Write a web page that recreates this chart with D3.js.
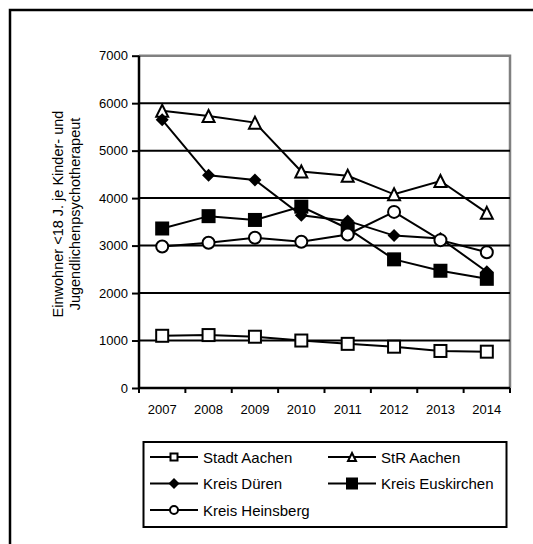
<!DOCTYPE html>
<html><head><meta charset="utf-8">
<script src="https://cdn.jsdelivr.net/npm/d3@7"></script>
<style>body{margin:0;background:#fff}svg{display:block;font-family:"Liberation Sans",Arial,sans-serif}</style>
</head><body><svg id="c" width="533" height="544"></svg>
<script>
const years = ["2007","2008","2009","2010","2011","2012","2013","2014"];
const yTicks = [0,1000,2000,3000,4000,5000,6000,7000];
const stadtAachen = [1100,1115,1080,1000,930,870,780,765];
const strAachen = [5840,5730,5590,4560,4470,4080,4360,3690];
const kreisDueren = [5650,4480,4380,3640,3520,3210,3150,2450];
const kreisEuskirchen = [3360,3620,3540,3820,3360,2710,2470,2300];
const kreisHeinsberg = [2980,3060,3165,3080,3235,3710,3115,2860];
const seriesNames = ["Stadt Aachen","StR Aachen","Kreis Düren","Kreis Euskirchen","Kreis Heinsberg"];
const yTitle = ["Einwohner <18 J. je Kinder- und","Jugendlichenpsychotherapeut"];

const series = [
  {name:seriesNames[0], values:stadtAachen, marker:"osquare"},
  {name:seriesNames[1], values:strAachen, marker:"triangle"},
  {name:seriesNames[2], values:kreisDueren, marker:"diamond"},
  {name:seriesNames[3], values:kreisEuskirchen, marker:"fsquare"},
  {name:seriesNames[4], values:kreisHeinsberg, marker:"circle"}
];

const svg = d3.select("#c");
svg.append("rect").attr("x",10).attr("y",10).attr("width",700).attr("height",700)
  .attr("fill","none").attr("stroke","#000").attr("stroke-width",2.5);

const L=139, R=510, T=55.7, B=388;
const x = d3.scaleBand().domain(years).range([L,R]).padding(0);
const y = d3.scaleLinear().domain([0,7000]).range([B,T]);

// plot border (gray) top & right
svg.append("path").attr("d",`M${L},${y(7000)}H${R}V${B}`).attr("fill","none")
  .attr("stroke","#808080").attr("stroke-width",2.5);

// gridlines
svg.append("g").selectAll("line").data(yTicks.filter(d=>d>0&&d<7000)).join("line")
  .attr("x1",L).attr("x2",R).attr("y1",d=>y(d)).attr("y2",d=>y(d))
  .attr("stroke","#000").attr("stroke-width",2);

// y axis
const yAxis = d3.axisLeft(y).tickValues(yTicks).tickSize(7).tickPadding(4).tickFormat(d3.format("d"));
const gy = svg.append("g").attr("transform",`translate(${L},0)`).call(yAxis);
gy.select(".domain").attr("stroke-width",2.5).attr("d",`M0,${y(7000)}V${B}`);
gy.selectAll(".tick line").attr("stroke-width",2);
gy.selectAll("text").attr("font-size",13).attr("font-family","Liberation Sans, Arial").attr("fill","#000");

// x axis with ticks at band boundaries
const gx = svg.append("g").attr("transform",`translate(0,${B})`);
gx.append("line").attr("x1",L-1).attr("x2",R).attr("stroke","#000").attr("stroke-width",2.5);
const bounds = years.map(d=>x(d)).concat([R]);
gx.selectAll("line.t").data(bounds).join("line").attr("class","t")
  .attr("x1",d=>d).attr("x2",d=>d).attr("y1",0).attr("y2",5).attr("stroke","#000").attr("stroke-width",2);
gx.selectAll("text").data(years).join("text")
  .attr("x",d=>x(d)+x.bandwidth()/2).attr("y",25.5).attr("text-anchor","middle")
  .attr("font-size",13).text(d=>d);

// y title
const tt = svg.append("text").attr("transform",`translate(63,214) rotate(-90)`)
  .attr("text-anchor","middle").attr("font-size",14.5);
tt.append("tspan").attr("x",0).attr("y",0).text(yTitle[0]);
tt.append("tspan").attr("x",0).attr("y",17).text(yTitle[1]);

function drawMarker(g, type, cx, cy, s){
  if(type==="osquare") g.append("rect").attr("x",cx-s/2).attr("y",cy-s/2).attr("width",s).attr("height",s).attr("fill","#fff").attr("stroke","#000").attr("stroke-width",2);
  else if(type==="fsquare") g.append("rect").attr("x",cx-s/2).attr("y",cy-s/2).attr("width",s).attr("height",s).attr("fill","#000");
  else if(type==="triangle") g.append("path").attr("d",`M${cx},${cy-s/2}L${cx+s/2},${cy+s/2}L${cx-s/2},${cy+s/2}Z`).attr("fill","#fff").attr("stroke","#000").attr("stroke-width",2);
  else if(type==="diamond") g.append("path").attr("d",`M${cx},${cy-s/2}L${cx+s/2},${cy}L${cx},${cy+s/2}L${cx-s/2},${cy}Z`).attr("fill","#000");
  else if(type==="circle") g.append("circle").attr("cx",cx).attr("cy",cy).attr("r",s/2).attr("fill","#fff").attr("stroke","#000").attr("stroke-width",2);
}
const chartSize = {osquare:12, fsquare:14, triangle:12, diamond:13, circle:12};
const legSize = {osquare:7, fsquare:12, triangle:8, diamond:11, circle:8};

const line = d3.line().x((d,i)=>x(years[i])+x.bandwidth()/2).y(d=>y(d));
series.forEach(s=>{
  const g = svg.append("g");
  g.append("path").attr("d",line(s.values)).attr("fill","none").attr("stroke","#000").attr("stroke-width",2);
  s.values.forEach((v,i)=>drawMarker(g,s.marker,x(years[i])+x.bandwidth()/2,y(v),chartSize[s.marker]));
});

// legend
svg.append("rect").attr("x",143.5).attr("y",442).attr("width",363).attr("height",85)
  .attr("fill","none").attr("stroke","#000").attr("stroke-width",2);
const rows=[457,483.5,510], cols=[150,328];
series.forEach((s,i)=>{
  const lx = cols[i%2], ly = rows[Math.floor(i/2)];
  const g = svg.append("g");
  g.append("line").attr("x1",lx).attr("x2",lx+48).attr("y1",ly).attr("y2",ly).attr("stroke","#000").attr("stroke-width",2);
  drawMarker(g,s.marker,lx+24,ly,legSize[s.marker]);
  g.append("text").attr("x",lx+53).attr("y",ly+5.5).attr("font-size",15).text(s.name);
});
</script></body></html>
